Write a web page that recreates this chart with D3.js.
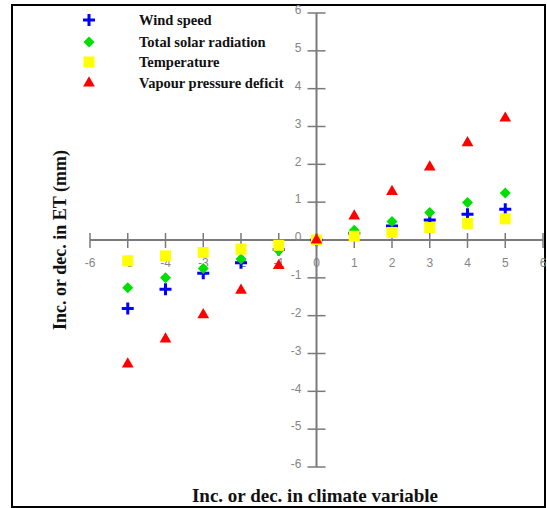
<!DOCTYPE html>
<html><head><meta charset="utf-8">
<script src="https://cdn.jsdelivr.net/npm/d3@7"></script>
<style>body{margin:0;background:#fff}svg{display:block}</style>
</head><body>
<svg id="c" width="547" height="508"></svg>
<script>
const xValues = [-5, -4, -3, -2, -1, 0, 1, 2, 3, 4, 5];
const windSpeed = [-1.81, -1.3, -0.88, -0.6, -0.25, 0, 0.18, 0.37, 0.53, 0.68, 0.81];
const solarRadiation = [-1.26, -1.0, -0.75, -0.5, -0.28, 0, 0.26, 0.49, 0.73, 0.99, 1.24];
const temperature = [-0.55, -0.42, -0.33, -0.24, -0.14, 0, 0.1, 0.2, 0.33, 0.44, 0.56];
const vpd = [-3.28, -2.62, -1.98, -1.33, -0.68, 0, 0.63, 1.28, 1.93, 2.57, 3.22];
const seriesNames = ["Wind speed", "Total solar radiation", "Temperature", "Vapour pressure deficit"];
const tickValues = [-6, -5, -4, -3, -2, -1, 0, 1, 2, 3, 4, 5, 6];
const xTitle = "Inc. or dec. in climate variable";
const yTitle = "Inc. or dec. in ET (mm)";

const svg = d3.select("#c");
const x = d3.scaleLinear().domain([-6, 6]).range([90, 543]);
const y = d3.scaleLinear().domain([-6, 6]).range([467, 13]);

// frame
svg.append("rect").attr("x", 12).attr("y", 5).attr("width", 533).attr("height", 502)
  .attr("fill", "none").attr("stroke", "#000").attr("stroke-width", 2);

const axisColor = "#7a7a7a";
// x axis
const xg = svg.append("g").attr("transform", `translate(0,${y(0)})`);
xg.append("line").attr("x1", x(-6)).attr("x2", x(6)).attr("stroke", axisColor).attr("stroke-width", 2);
xg.selectAll("line.t").data(tickValues).join("line").attr("class", "t")
  .attr("x1", d => x(d)).attr("x2", d => x(d)).attr("y1", -7).attr("y2", 8)
  .attr("stroke", axisColor).attr("stroke-width", 1.5);
xg.selectAll("text").data(tickValues).join("text")
  .attr("x", d => x(d)).attr("y", 27).attr("text-anchor", "middle")
  .attr("font-family", "Arial, Liberation Sans, sans-serif").attr("font-size", 12).attr("fill", "#858585")
  .text(d => d);

// y axis
const yg = svg.append("g").attr("transform", `translate(${x(0)},0)`);
yg.append("line").attr("y1", y(-6)).attr("y2", y(6)).attr("stroke", axisColor).attr("stroke-width", 2);
yg.selectAll("line.t").data(tickValues).join("line").attr("class", "t")
  .attr("y1", d => y(d)).attr("y2", d => y(d)).attr("x1", -9).attr("x2", 9)
  .attr("stroke", axisColor).attr("stroke-width", 1.5);
yg.selectAll("text").data(tickValues).join("text")
  .attr("x", -15).attr("y", d => y(d)).attr("dy", "0.1em").attr("text-anchor", "end")
  .attr("font-family", "Arial, Liberation Sans, sans-serif").attr("font-size", 12).attr("fill", "#858585")
  .text(d => d);

const series = [
  {name: seriesNames[0], vals: windSpeed, color: "#0000ff", type: "plus"},
  {name: seriesNames[1], vals: solarRadiation, color: "#00e000", type: "diamond"},
  {name: seriesNames[2], vals: temperature, color: "#ffff00", type: "square"},
  {name: seriesNames[3], vals: vpd, color: "#ff0000", type: "triangle"}
];

function drawSym(g, s, cx, cy) {
  const p = g.append("path").attr("transform", `translate(${cx},${cy})`);
  if (s.type === "plus") {
    p.attr("d", "M-6,0H6M0,-6V6").attr("stroke", s.color).attr("stroke-width", 3).attr("fill", "none");
  } else if (s.type === "diamond") {
    p.attr("d", "M0,-5.5L5.5,0L0,5.5L-5.5,0Z").attr("fill", s.color);
  } else if (s.type === "square") {
    p.attr("d", "M-5.5,-5.5H5.5V5.5H-5.5Z").attr("fill", s.color);
  } else {
    p.attr("d", d3.symbol().type(d3.symbolTriangle).size(60)()).attr("fill", s.color);
  }
}

const pts = svg.append("g");
series.forEach(s => {
  s.vals.forEach((v, i) => drawSym(pts, s, x(xValues[i]), y(v)));
});

// legend
const lg = svg.append("g");
const legY = [20, 42, 62, 83];
series.forEach((s, i) => {
  drawSym(lg, s, 89, legY[i]);
  lg.append("text").attr("x", 139).attr("y", legY[i]).attr("dy", "0.35em")
    .attr("font-family", "Liberation Serif, Times New Roman, serif").attr("font-weight", "bold")
    .attr("font-size", 14.5).attr("fill", "#111").text(s.name);
});

// titles
svg.append("text").attr("x", 315).attr("y", 502).attr("text-anchor", "middle")
  .attr("font-family", "Liberation Serif, Times New Roman, serif").attr("font-weight", "bold")
  .attr("font-size", 19).attr("fill", "#111").text(xTitle);
svg.append("text").attr("transform", "translate(66,240) rotate(-90)").attr("text-anchor", "middle")
  .attr("font-family", "Liberation Serif, Times New Roman, serif").attr("font-weight", "bold")
  .attr("font-size", 18).attr("fill", "#111").text(yTitle);
</script>
</body></html>
